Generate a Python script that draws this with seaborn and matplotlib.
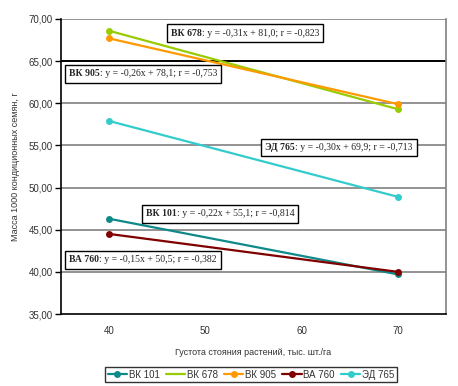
import matplotlib
matplotlib.use("Agg")
import matplotlib.pyplot as plt
import seaborn as sns
import pandas as pd
from matplotlib.lines import Line2D
from matplotlib.offsetbox import TextArea, HPacker, AnnotationBbox
from matplotlib.ticker import FuncFormatter, FixedLocator

# ---- data ----
density = [40, 70]
vk101 = [46.3, 39.7]
vk678 = [68.6, 59.3]
vk905 = [67.7, 59.9]
va760 = [44.5, 40.0]
ed765 = [57.9, 48.9]
series_names = ["ВК 101", "ВК 678", "ВК 905", "ВА 760", "ЭД 765"]
x_tick_labels = [40, 50, 60, 70]
y_ticks = [35, 40, 45, 50, 55, 60, 65, 70]
eq_labels = ["ВК 678", "ВК 905", "ЭД 765", "ВК 101", "ВА 760"]
eq_texts = [": y = -0,31x + 81,0; r = -0,823",
            ": y = -0,26x + 78,1; r = -0,753",
            ": y = -0,30x + 69,9; r = -0,713",
            ": y = -0,22x + 55,1; r = -0,814",
            ": y = -0,15x + 50,5; r = -0,382"]

colors = {"ВК 101": "#0f8a8a", "ВК 678": "#99cc00", "ВК 905": "#ff9900",
          "ВА 760": "#800000", "ЭД 765": "#33cccc"}

df = pd.DataFrame({
    "x": density * 5,
    "y": vk101 + vk678 + vk905 + va760 + ed765,
    "s": [n for n in series_names for _ in density],
})

sns.set_style("white")
plt.rcParams["font.family"] = ["Liberation Sans", "DejaVu Sans"]

fig = plt.figure(figsize=(4.58, 3.86), dpi=100)
ax = fig.add_axes([61/458, 1-314/386, (446-61)/458, (314-19)/386])

for yv in y_ticks[1:]:
    ax.axhline(yv, color="black" if yv == 65 else "#808080",
               lw=1.4 if yv == 65 else 1.2, zorder=1)

sns.lineplot(data=df, x="x", y="y", hue="s", palette=colors, marker="o",
             markersize=5, markeredgewidth=0, linewidth=1.6, ax=ax,
             legend=False, zorder=3)

ax.set_xlim(35, 75)
ax.set_ylim(35, 70)
ax.set_yticks(y_ticks)
ax.yaxis.set_major_formatter(FuncFormatter(lambda v, p: f"{v:.2f}".replace(".", ",")))
ax.xaxis.set_major_locator(FixedLocator(x_tick_labels))
ax.xaxis.set_minor_locator(FixedLocator([45, 55, 65, 75]))
ax.tick_params(axis="x", which="major", length=0, pad=9, labelsize=7, labelcolor="#333333")
ax.tick_params(axis="x", which="minor", length=4, width=1, color="black", direction="out")
ax.tick_params(axis="y", length=4, width=1, color="black", direction="out", labelsize=7,
               labelcolor="#333333", left=True, pad=2)
for side in ["left", "bottom"]:
    ax.spines[side].set_color("black")
    ax.spines[side].set_linewidth(1.2)
ax.spines["right"].set_color("#808080")
ax.spines["right"].set_linewidth(1.2)
ax.spines["top"].set_visible(False)

ax.set_xlabel("Густота стояния растений, тыс. шт./га", fontsize=6.5, color="#333333", labelpad=8)
ax.set_ylabel("Масса 1000 кондиционных семян, г", fontsize=6.5, color="#333333", labelpad=6)

# equation boxes (figure pixel positions, top-left origin)
box_pos = [(245, 33), (143, 74), (339, 147.5), (220, 214), (143, 260)]
for lab, txt, (px, py) in zip(eq_labels, eq_texts, box_pos):
    t1 = TextArea(lab, textprops=dict(fontfamily="Liberation Serif", fontweight="bold", fontsize=7))
    t2 = TextArea(txt, textprops=dict(fontfamily="Liberation Serif", fontsize=7))
    pack = HPacker(children=[t1, t2], pad=0, sep=0, align="baseline")
    ab = AnnotationBbox(pack, (px/458, 1-py/386), xycoords="figure fraction",
                        frameon=True, pad=0.35, zorder=5,
                        bboxprops=dict(edgecolor="black", facecolor="white", lw=1.0,
                                       boxstyle="square"))
    ax.add_artist(ab)

handles = []
for n in series_names:
    handles.append(Line2D([], [], color=colors[n], lw=1.6,
                          marker=None if n == "ВК 678" else "o", markersize=5,
                          markeredgewidth=0))
leg = fig.legend(handles, series_names, loc="center", bbox_to_anchor=(251/458, 1-374.5/386),
                 ncol=5, fontsize=7, frameon=True, fancybox=False, handlelength=2.0,
                 handletextpad=0.2, columnspacing=0.6, borderpad=0.3)
leg.get_frame().set_edgecolor("black")
leg.get_frame().set_linewidth(1.0)
for t in leg.get_texts():
    t.set_color("#333333")

fig.savefig("out.png", dpi=100)
